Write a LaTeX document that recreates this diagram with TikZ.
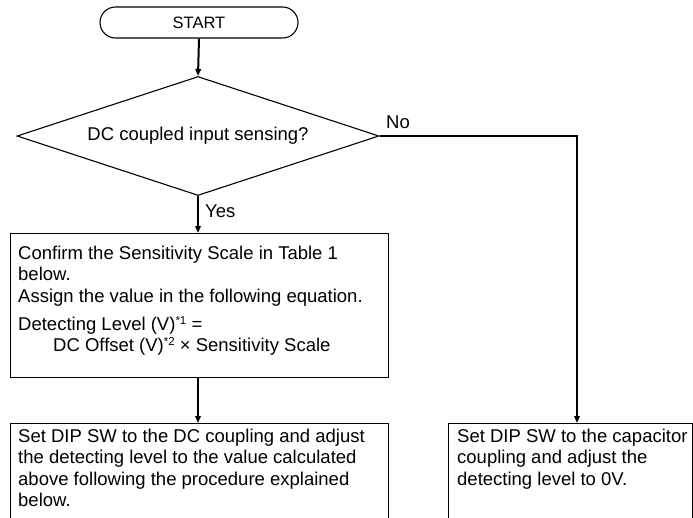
\documentclass[tikz,border=0pt]{standalone}
\usepackage{fontspec}
\setmainfont{Liberation Sans}
\usetikzlibrary{shapes.geometric,arrows.meta}
\newcommand{\supnote}[1]{\raisebox{6pt}{\fontsize{11.5}{12}\selectfont #1}}
\tikzset{
  boxline/.style={draw=black,line width=1.1pt},
  plainbox/.style={boxline,rectangle,inner sep=0pt,anchor=north west},
  txt/.style={inner sep=0pt,align=left,font=\fontsize{18.5}{21.5}\selectfont,anchor=base west},
  conn/.style={line width=2pt,-{Triangle[length=7pt,width=5.5pt]}},
  lbl/.style={inner sep=0pt,font=\fontsize{18.5}{21.5}\selectfont,anchor=base west}
}
\begin{document}
\begin{tikzpicture}[x=1pt,y=-1pt]
\useasboundingbox (0,0) rectangle (693,517);
\clip (0,0) rectangle (693,517);
% START terminal
\node[boxline,rectangle,rounded corners=15.5pt,minimum width=198pt,minimum height=31pt,inner sep=0pt,
      font=\fontsize{16.5}{20}\selectfont] (start) at (199,22.5) {START};
% decision diamond
\node[boxline,diamond,aspect=3.04,minimum width=362pt,minimum height=119pt,inner sep=0pt,
      font=\fontsize{18.5}{21.5}\selectfont] (dia) at (198,136) {DC coupled input sensing?};
% box 1 (multi-line text nodes are placed by the baseline of their last line)
\node[plainbox,minimum width=378pt,minimum height=144pt] (b1) at (10,233) {};
\node[txt] (t1) at (18,302) {Confirm the Sensitivity Scale in Table 1\\below.\\Assign the value in the following equation.};
\node[txt] (t1b) at (18,351.5) {Detecting Level (V)\supnote{*1} =\\\hspace*{35pt}DC Offset (V)\supnote{*2} \texttimes{} Sensitivity Scale};
% box 2
\node[plainbox,minimum width=378pt,minimum height=130pt] (b2) at (10,423) {};
\node[txt] (t2) at (18,506.5) {Set DIP SW to the DC coupling and adjust\\the detecting level to the value calculated\\above following the procedure explained\\below.};
% box 3
\node[plainbox,minimum width=244pt,minimum height=130pt] (b3) at (448,423) {};
\node[txt] (t3) at (457,485) {Set DIP SW to the capacitor\\coupling and adjust the\\detecting level to 0V.};
% connectors
\coordinate (turn) at (577,136);
\draw[conn] (start.south) -- (dia.north);
\draw[conn] (dia.south) -- (b1.north -| dia.south);
\draw[conn] (b1.south -| dia.south) -- (b2.north -| dia.south);
\draw[conn] (dia.east) -- (turn) -- (turn |- b3.north);
% labels
\node[lbl] (yes) at (205,217) {Yes};
\node[lbl] (no) at (386,128) {No};
\end{tikzpicture}
\end{document}
